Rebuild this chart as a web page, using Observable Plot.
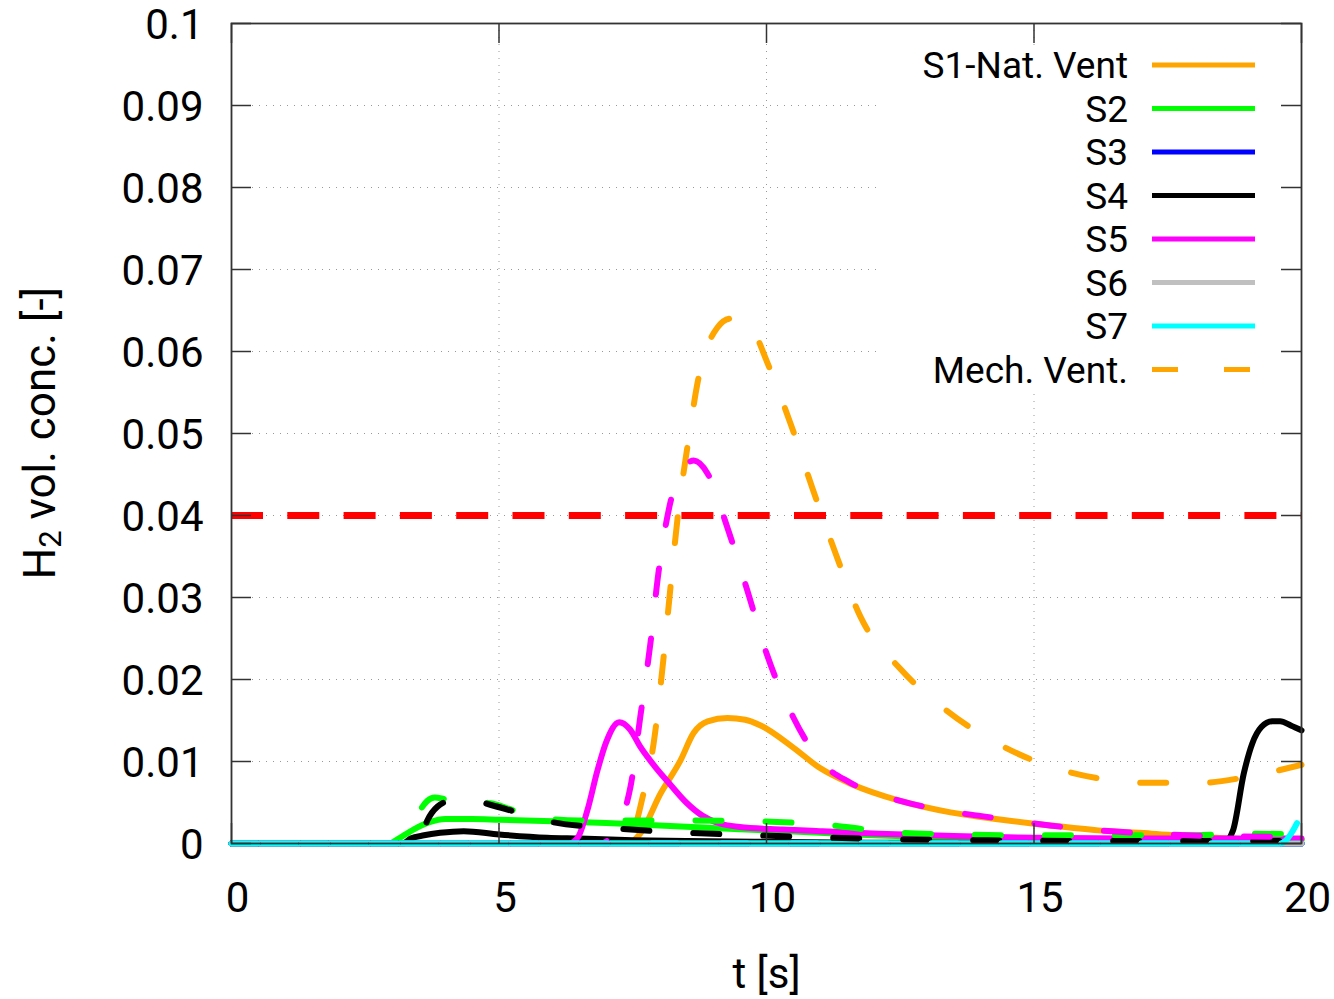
<!DOCTYPE html>
<html>
<head>
<meta charset="utf-8">
<script src="https://cdn.jsdelivr.net/npm/d3@7"></script>
<script src="https://cdn.jsdelivr.net/npm/@observablehq/plot@0.6"></script>
<style>
  html, body { margin: 0; padding: 0; background: #fff; }
  #wrap { position: relative; width: 1334px; height: 999px; font-family: Roboto, "Noto Sans", sans-serif; }
  #legend { position: absolute; left: 880px; top: 45px; width: 398px; height: 345px; background: #fff; }
  #legend svg { overflow: visible; }
</style>
</head>
<body>
<div id="wrap"></div>
<script>
// ---------- data ----------
const xTicks = [0, 5, 10, 15, 20];
const yTicks = [0, 0.01, 0.02, 0.03, 0.04, 0.05, 0.06, 0.07, 0.08, 0.09, 0.1];
const threshold = 0.04;

// Natural ventilation (solid)
const s1T = [0, 7.4, 7.64, 8.02, 8.39, 8.64, 8.9, 9.27, 9.6, 9.89, 10.5, 11.0, 11.57, 12.5, 13.44, 14.4, 15.3, 16.2, 17.2, 18.4, 19.2, 20];
const s1V = [0, 0, 0.0012, 0.0061, 0.0101, 0.0135, 0.0149, 0.0153, 0.0151, 0.0144, 0.0117, 0.0092, 0.0073, 0.0052, 0.0038, 0.0029, 0.0022, 0.0016, 0.0012, 0.0007, 0.0005, 0.0005];

const s2T = [0, 2.95, 3.1, 3.4, 3.7, 4.0, 4.5, 5.0, 6.0, 7.0, 8.0, 9.0, 10.0, 11.0, 12.0, 13.0, 14.0, 16.0, 18.0, 20];
const s2V = [0, 0, 0.0005, 0.0017, 0.0026, 0.003, 0.003, 0.0029, 0.0027, 0.0025, 0.0022, 0.0019, 0.0016, 0.0013, 0.001, 0.0008, 0.0006, 0.0005, 0.0004, 0.0004];

const s3T = [0, 20];
const s3V = [0, 0];

const s4T = [0, 3.2, 3.35, 3.6, 3.9, 4.34, 5.0, 5.9, 6.5, 7.5, 8.5, 10.0, 12.0, 18.55, 18.72, 18.92, 19.08, 19.25, 19.45, 19.6, 19.8, 20];
const s4V = [0, 0, 0.0006, 0.001, 0.0013, 0.0015, 0.0011, 0.0007, 0.0006, 0.0004, 0.0003, 0.0002, 0.0001, 0.0001, 0.0016, 0.0085, 0.0122, 0.0142, 0.0149, 0.0149, 0.0144, 0.0138];

const s5T = [0, 6.3, 6.47, 6.65, 6.84, 7.0, 7.25, 7.45, 7.64, 7.9, 8.2, 8.5, 8.8, 9.1, 9.5, 10.3, 11.0, 12.1, 13.5, 15.0, 17.0, 20];
const s5V = [0, 0, 0.0007, 0.004, 0.0089, 0.0123, 0.0148, 0.0139, 0.0118, 0.0095, 0.0072, 0.005, 0.0034, 0.0025, 0.002, 0.0017, 0.0015, 0.0012, 0.0009, 0.0007, 0.0006, 0.0006];

const s6T = [0, 20];
const s6V = [0, 0];

const s7T = [0, 20];
const s7V = [0, 0];

// Mechanical ventilation (dashed)
const m1T = [0, 7.3, 7.46, 7.7, 7.89, 8.07, 8.2, 8.34, 8.52, 8.73, 9.08, 9.33, 9.55, 9.8, 10.0, 10.45, 10.86, 11.29, 11.76, 12.5, 13.25, 14.37, 15.3, 16.24, 17.18, 18.1, 19.05, 20];
const m1V = [0, 0, 0.0007, 0.0061, 0.0122, 0.0223, 0.0309, 0.0398, 0.0483, 0.0568, 0.0629, 0.064, 0.064, 0.062, 0.0589, 0.0512, 0.0433, 0.0354, 0.0276, 0.0213, 0.0168, 0.012, 0.0094, 0.0079, 0.0074, 0.0074, 0.0082, 0.0096];

const m2T = [0, 3.1, 3.3, 3.5, 3.66, 3.8, 4.0, 4.5, 4.84, 5.3, 5.96, 6.5, 7.27, 8.64, 9.94, 10.6, 11.25, 12.0, 12.5, 13.5, 15.0, 17.8, 19.05, 20];
const m2V = [0, 0, 0.0015, 0.0038, 0.0052, 0.0056, 0.0054, 0.0051, 0.0049, 0.004, 0.003, 0.0028, 0.0028, 0.0028, 0.0027, 0.0025, 0.0022, 0.0016, 0.0013, 0.0011, 0.001, 0.001, 0.0012, 0.0011];

const m3T = [0, 20];
const m3V = [0, 0];

const m4T = [0, 3.5, 3.66, 3.85, 4.1, 4.5, 4.9, 5.5, 6.0, 7.27, 8.52, 9.8, 11.2, 12.5, 14.0, 16.0, 20];
const m4V = [0, 0, 0.0028, 0.0045, 0.0052, 0.0052, 0.0046, 0.0035, 0.0026, 0.0018, 0.0013, 0.001, 0.0007, 0.0005, 0.0004, 0.0003, 0.0003];

const m5T = [0, 6.9, 7.08, 7.46, 7.64, 7.83, 7.98, 8.2, 8.45, 8.64, 8.9, 9.27, 9.64, 10.0, 10.5, 11.0, 11.57, 12.5, 13.44, 14.4, 15.3, 16.2, 17.2, 18.4, 20];
const m5V = [0, 0, 0.0007, 0.007, 0.0154, 0.0244, 0.033, 0.0415, 0.0458, 0.0467, 0.0451, 0.0385, 0.0309, 0.0232, 0.0154, 0.0101, 0.0074, 0.0052, 0.0039, 0.003, 0.0022, 0.0016, 0.0012, 0.0009, 0.0008];

const m6T = [0, 20];
const m6V = [0, 0];

const m7T = [0, 19.6, 20];
const m7V = [0, 0, 0.0036];

const seriesNames = ["S1-Nat. Vent", "S2", "S3", "S4", "S5", "S6", "S7"];
const seriesColors = ["#ffa500", "#00ff00", "#0000ff", "#000000", "#ff00ff", "#c0c0c0", "#00ffff"];
const legendLabels = ["S1-Nat. Vent", "S2", "S3", "S4", "S5", "S6", "S7", "Mech. Vent."];

// ---------- build ----------
const natural = [[s1T, s1V], [s2T, s2V], [s3T, s3V], [s4T, s4V], [s5T, s5V], [s6T, s6V], [s7T, s7V]];
const mech = [[m1T, m1V], [m2T, m2V], [m3T, m3V], [m4T, m4V], [m5T, m5V], [m6T, m6V], [m7T, m7V]];
const toRows = ([T, V]) => T.map((t, i) => ({t, v: V[i]}));

const W = 1334, H = 999;
const mL = 231, mR = 33, mT = 23, mB = 156;
const pw = W - mL - mR, ph = H - mT - mB;
const tickLen = 20;
const dash = "26,44";
const fmtY = d => d === 0 ? "0" : String(+d.toFixed(2));
const font = "Roboto, 'Noto Sans', sans-serif";

const lineMarks = [];
natural.forEach((s, i) => lineMarks.push(Plot.line(toRows(s), {x: "t", y: "v", stroke: seriesColors[i], strokeWidth: 6, curve: "monotone-x"})));
mech.forEach((s, i) => lineMarks.push(Plot.line(toRows(s), {x: "t", y: "v", stroke: seriesColors[i], strokeWidth: 6, strokeDasharray: dash, curve: "monotone-x"})));

const chart = Plot.plot({
  width: W, height: H,
  marginLeft: mL, marginRight: mR, marginTop: mT, marginBottom: mB,
  style: {fontFamily: font, background: "#fff"},
  x: {domain: [0, 20], axis: null},
  y: {domain: [0, 0.1], axis: null},
  marks: [
    Plot.ruleY(yTicks.filter(d => d > 0 && d < 0.1), {stroke: "#999", strokeWidth: 1, strokeDasharray: "1,6"}),
    Plot.ruleX(xTicks.filter(d => d > 0 && d < 20), {stroke: "#999", strokeWidth: 1, strokeDasharray: "1,6"}),
    Plot.ruleY([threshold], {stroke: "#ff0000", strokeWidth: 7, strokeDasharray: "32,24.3"}),
    ...lineMarks,
    Plot.tickY(yTicks, {y: d => d, insetRight: pw - tickLen, stroke: "#333", strokeWidth: 1.5}),
    Plot.tickY(yTicks, {y: d => d, insetLeft: pw - tickLen, stroke: "#333", strokeWidth: 1.5}),
    Plot.tickX(xTicks, {x: d => d, insetBottom: ph - tickLen, stroke: "#333", strokeWidth: 1.5}),
    Plot.tickX(xTicks, {x: d => d, insetTop: ph - tickLen, stroke: "#333", strokeWidth: 1.5}),
    Plot.frame({stroke: "#333", strokeWidth: 1.8}),
    Plot.text(yTicks, {y: d => d, text: fmtY, frameAnchor: "left", textAnchor: "end", dx: -28, dy: 2, fontSize: 42, fill: "#000"}),
    Plot.text(xTicks, {x: d => d, text: d => String(d), frameAnchor: "bottom", dx: 6, dy: 68, fontSize: 42, fill: "#000"}),
    Plot.text(["t [s]"], {text: d => d, frameAnchor: "bottom", dy: 144, fontSize: 42, fill: "#000"})
  ]
});

// y-axis label with subscript
const svg = d3.select(chart);
const yl = svg.append("text")
  .attr("transform", `translate(55, ${mT + ph / 2}) rotate(-90)`)
  .attr("text-anchor", "middle")
  .attr("font-family", font)
  .attr("font-size", 44)
  .attr("fill", "#000");
yl.append("tspan").text("H");
yl.append("tspan").attr("font-size", 31).attr("dy", 6).text("2");
yl.append("tspan").attr("dy", -6).text(" vol. conc. [-]");

const wrap = document.getElementById("wrap");
wrap.appendChild(chart);

// legend overlay
const leg = d3.select(wrap).append("div").attr("id", "legend")
  .append("svg").attr("width", 398).attr("height", 345);
legendLabels.forEach((lab, i) => {
  const y = 20 + i * 43.5;
  leg.append("text").attr("x", 248).attr("y", y).attr("dy", "0.36em")
    .attr("text-anchor", "end").attr("font-family", font).attr("font-size", 37).attr("fill", "#000").text(lab);
  const isMech = i === 7;
  leg.append("line").attr("x1", 272).attr("x2", 375).attr("y1", y).attr("y2", y)
    .attr("stroke", isMech ? seriesColors[0] : seriesColors[i]).attr("stroke-width", 5)
    .attr("stroke-dasharray", isMech ? "26,46" : null);
});
</script>
</body>
</html>
